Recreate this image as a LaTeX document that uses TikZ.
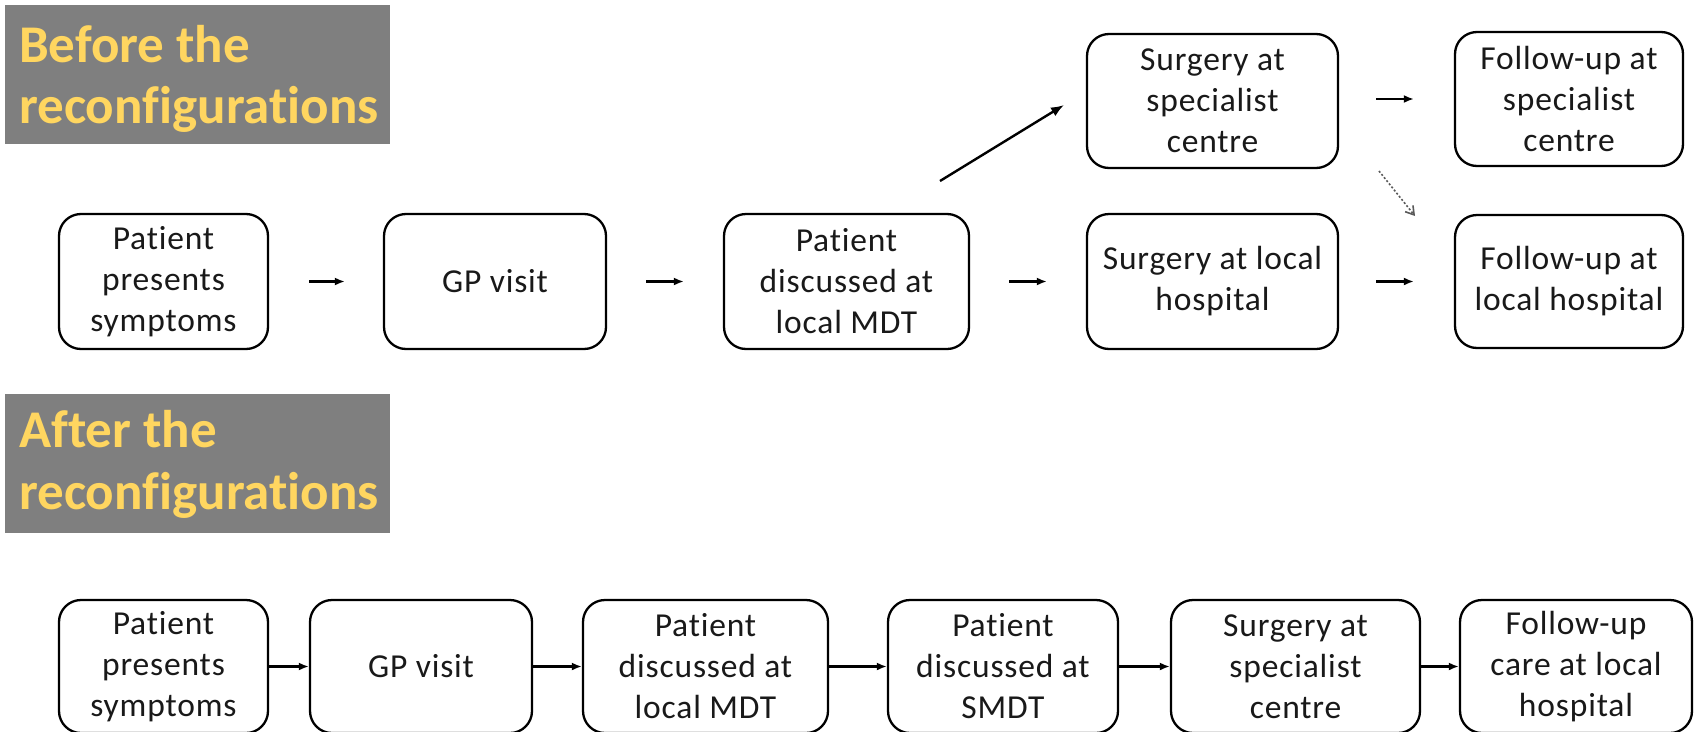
\documentclass[tikz,border=0pt]{standalone}
\usepackage{fontspec}
\setmainfont{Carlito}[Ligatures=NoCommon, LetterSpace=2.5]
\newfontfamily\bannerfont{Carlito}[Ligatures=NoCommon]
\usetikzlibrary{arrows.meta}
\definecolor{bannergray}{RGB}{127,127,127}
\definecolor{bannergold}{RGB}{255,214,96}
\tikzset{
  stepbox/.style={draw=black, line width=2.3pt, rounded corners=22pt, align=center,
    inner sep=0pt, font=\fontsize{33.5}{41}\selectfont, text=black!90},
  flow/.style={line width=2.4pt, -{Latex[length=10pt,width=8pt]}},
  bigflow/.style={line width=2.4pt, -{Latex[length=13pt,width=10pt]}},
  dotflow/.style={line width=1.6pt, black!65, dash pattern=on 2pt off 2pt, -{Straight Barb[length=8pt,width=10pt,line width=1.6pt]}},
  banner/.style={fill=bannergray, draw=none},
  bannertext/.style={text=bannergold, font=\bannerfont\bfseries\fontsize{53}{62}\selectfont,
    anchor=base west, inner sep=0pt},
}
\begin{document}
\begin{tikzpicture}[x=1pt,y=-1pt]
\path[use as bounding box, clip] (0,0) rectangle (1694,731);
\fill[white] (0,0) rectangle (1694,731);

% banners
\fill[banner] (5,5) rectangle (390,144);
\node[bannertext] (ban1a) at (19,62) {Before the};
\node[bannertext] (ban1b) at (19,123) {reconfigurations};
\fill[banner] (5,394) rectangle (390,533);
\node[bannertext] (ban2a) at (19,447) {After the};
\node[bannertext] (ban2b) at (19,509) {reconfigurations};

% top flow
\node[stepbox, minimum width=209pt, minimum height=135pt] (t1) at (163.5,281.5) {Patient\\presents\\symptoms};
\node[stepbox, minimum width=222pt, minimum height=135pt] (t2) at (495,281.5) {GP visit};
\node[stepbox, minimum width=245pt, minimum height=135pt] (t3) at (846.5,281.5) {Patient\\discussed at\\local MDT};
\node[stepbox, minimum width=251pt, minimum height=135pt] (t4) at (1212.5,281.5) {Surgery at local\\hospital};
\node[stepbox, minimum width=228pt, minimum height=133pt] (t5) at (1569,281.5) {Follow-up at\\local hospital};
\node[stepbox, minimum width=251pt, minimum height=134pt] (s1) at (1212.5,101) {Surgery at\\specialist\\centre};
\node[stepbox, minimum width=228pt, minimum height=134pt] (s2) at (1569,99) {Follow-up at\\specialist\\centre};

\draw[flow, shorten <=40pt, shorten >=38pt] (t1) -- (t2);
\draw[flow, shorten <=39pt, shorten >=39pt] (t2) -- (t3);
\draw[flow, shorten <=39pt, shorten >=39pt] (t3) -- (t4);
\draw[flow, shorten <=37pt, shorten >=40pt] (t4) -- (t5);
\draw[flow, shorten <=37pt, shorten >=40pt] (s1.east |- s2.west) -- (s2.west);
\coordinate (dA) at (940,181);
\coordinate (dB) at (1064,105);
\draw[bigflow] (dA) -- (dB);
\coordinate (eA) at (1379,171);
\coordinate (eB) at (1415,216);
\draw[dotflow] (eA) -- (eB);

% bottom flow
\node[stepbox, minimum width=209pt, minimum height=133pt] (b1) at (163.5,666.5) {Patient\\presents\\symptoms};
\node[stepbox, minimum width=222pt, minimum height=133pt] (b2) at (421,666.5) {GP visit};
\node[stepbox, minimum width=245pt, minimum height=133pt] (b3) at (705.5,666.5) {Patient\\discussed at\\local MDT};
\node[stepbox, minimum width=230pt, minimum height=133pt] (b4) at (1003,666.5) {Patient\\discussed at\\SMDT};
\node[stepbox, minimum width=249pt, minimum height=133pt] (b5) at (1295.5,666.5) {Surgery at\\specialist\\centre};
\node[stepbox, minimum width=232pt, minimum height=133pt] (b6) at (1576,666.5) {Follow-up\\care at local\\hospital};

\draw[flow] (b1) -- (b2);
\draw[flow] (b2) -- (b3);
\draw[flow] (b3) -- (b4);
\draw[flow] (b4) -- (b5);
\draw[flow] (b5) -- (b6);
\end{tikzpicture}
\end{document}
